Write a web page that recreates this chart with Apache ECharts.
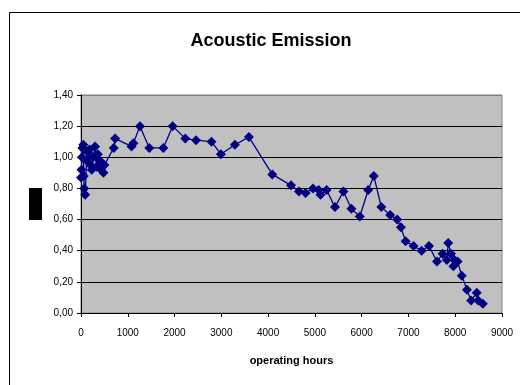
<!DOCTYPE html>
<html>
<head>
<meta charset="utf-8">
<script src="https://cdn.jsdelivr.net/npm/echarts@6/dist/echarts.min.js"></script>
<style>
  html, body { margin: 0; padding: 0; background: #fff; }
  #chart { width: 520px; height: 385px; }
</style>
</head>
<body>
<div id="chart"></div>
<script>
// Operating hours at each measurement
const hours = [
  0, 10, 20, 30, 50, 60, 70, 90, 120, 150, 180, 200, 230, 260, 300, 330, 360, 400, 430, 480, 500,
  700, 730, 1080, 1120, 1260, 1460, 1760, 1960, 2230, 2460, 2790, 2990, 3290, 3590,
  4090, 4490, 4660, 4800, 4960, 5080, 5120, 5250, 5430, 5610, 5780, 5960, 6140, 6260,
  6420, 6610, 6760, 6840, 6940, 7110, 7280, 7440, 7610, 7730, 7820, 7850, 7910, 7960,
  7980, 8050, 8140, 8250, 8340, 8460, 8490, 8590
];
// Acoustic emission level at each measurement
const emission = [
  0.87, 0.92, 1.00, 1.06, 1.08, 0.88, 0.80, 0.76, 0.98, 1.03, 1.05, 0.95, 0.92, 1.00, 1.07, 0.94, 1.02, 0.98, 0.92, 0.90, 0.95,
  1.06, 1.12, 1.07, 1.09, 1.20, 1.06, 1.06, 1.20, 1.12, 1.11, 1.10, 1.02, 1.08, 1.13,
  0.89, 0.82, 0.78, 0.77, 0.80, 0.79, 0.76, 0.79, 0.68, 0.78, 0.67, 0.62, 0.79, 0.88,
  0.68, 0.63, 0.60, 0.55, 0.46, 0.43, 0.40, 0.43, 0.33, 0.38, 0.34, 0.45, 0.38, 0.30,
  0.34, 0.33, 0.24, 0.15, 0.08, 0.13, 0.08, 0.06
];
// Axis ranges
const xTicks = { min: 0, max: 9000, step: 1000 };
const yTicks = { min: 0, max: 1.4, step: 0.2 };

const points = hours.map((h, i) => [h, emission[i]]);
const fontFamily = '"Liberation Sans", Arial, sans-serif';

const chart = echarts.init(document.getElementById('chart'), null, { renderer: 'canvas' });
chart.setOption({
  animation: false,
  backgroundColor: '#ffffff',
  title: {
    text: 'Acoustic Emission',
    left: 266, top: 27, textAlign: 'center',
    textStyle: { fontFamily, fontSize: 18, fontWeight: 'bold', color: '#000', letterSpacing: -0.5 }
  },
  graphic: [
    { type: 'rect', shape: { x: 9.5, y: 12.5, width: 700, height: 600 },
      style: { fill: 'none', stroke: '#000', lineWidth: 1 }, z: 0 },
    { type: 'rect', shape: { x: 29, y: 188, width: 13, height: 32 },
      style: { fill: '#000' }, z: 5 }
  ],
  grid: {
    left: 81, top: 95, width: 421, height: 218,
    show: true, backgroundColor: '#c0c0c0', borderColor: '#808080', borderWidth: 1
  },
  xAxis: {
    type: 'value', min: xTicks.min, max: xTicks.max, interval: xTicks.step,
    name: 'operating hours', nameLocation: 'middle', nameGap: 42,
    nameTextStyle: { fontFamily, fontSize: 11, fontWeight: 'bold', color: '#000', letterSpacing: 1.3 },
    axisLine: { show: true, onZero: false, lineStyle: { color: '#000', width: 1 } },
    axisTick: { show: true, length: 4, inside: false, lineStyle: { color: '#000' } },
    axisLabel: { fontFamily, fontSize: 10, color: '#000', margin: 15, formatter: v => String(v) },
    splitLine: { show: false }
  },
  yAxis: {
    type: 'value', min: yTicks.min, max: yTicks.max, interval: yTicks.step,
    axisLine: { show: true, onZero: false, lineStyle: { color: '#000', width: 1 } },
    axisTick: { show: true, length: 4, inside: false, lineStyle: { color: '#000' } },
    axisLabel: {
      fontFamily, fontSize: 10, color: '#000', margin: 8,
      formatter: v => v.toFixed(2).replace('.', ',')
    },
    splitLine: {
      show: true,
      lineStyle: { color: ['#000', '#000', '#000', '#000', '#000', '#000', '#000', '#808080'], width: 1 }
    }
  },
  series: [{
    type: 'line',
    data: points,
    symbol: 'diamond',
    symbolSize: 10,
    itemStyle: { color: '#000080' },
    lineStyle: { color: '#000080', width: 1.3 },
    z: 3
  }]
});
</script>
</body>
</html>
